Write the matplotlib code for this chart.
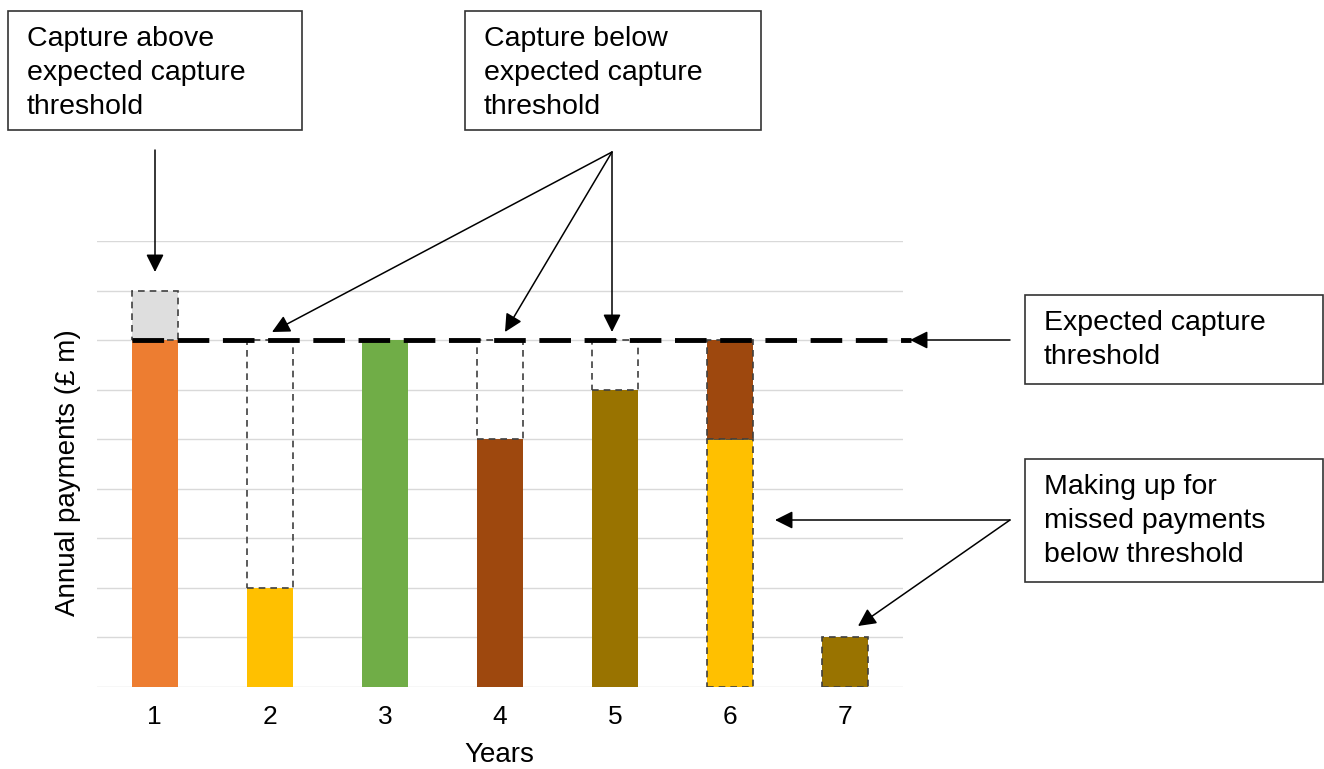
import matplotlib
matplotlib.use("Agg")
import matplotlib.pyplot as plt
from matplotlib.patches import Rectangle, FancyArrowPatch

plt.rcParams['font.family'] = ['Liberation Sans', 'DejaVu Sans']

W, H = 1324, 769

years = [1, 2, 3, 4, 5, 6, 7]
threshold = 7
paid = [7, 2, 7, 5, 6, 5, 1]
paid_colors = ['#ED7D31', '#FFC000', '#70AD47', '#9E480E', '#997300', '#FFC000', '#997300']
paid_dashed = [False, False, False, False, False, True, True]
above = [1, 0, 0, 0, 0, 0, 0]
shortfall = [0, 5, 0, 2, 1, 0, 0]
catch_up = [0, 0, 0, 0, 0, 2, 0]
catch_up_color = '#9E480E'

box_texts = [
    "Capture above\nexpected capture\nthreshold",
    "Capture below\nexpected capture\nthreshold",
    "Expected capture\nthreshold",
    "Making up for\nmissed payments\nbelow threshold",
]


def fx(x):
    return x / W


def fy(y):
    return 1 - y / H


fig = plt.figure(figsize=(W / 100, H / 100), dpi=100)
ax = fig.add_axes([fx(97), fy(687), (903 - 97) / W, (687 - 241) / H])

dash = (0, (4, 3))
edge = '#404040'
bw = 0.4

for i, yr in enumerate(years):
    if paid_dashed[i]:
        ax.bar(yr, paid[i], width=bw, color=paid_colors[i], edgecolor=edge, linestyle=dash, linewidth=1.2, zorder=3)
    else:
        ax.bar(yr, paid[i], width=bw, color=paid_colors[i], linewidth=0, zorder=3)
    if above[i] > 0:
        ax.bar(yr, above[i], bottom=threshold, width=bw, color='#DEDEDE', edgecolor=edge,
               linestyle=dash, linewidth=1.2, zorder=3)
    if shortfall[i] > 0:
        ax.bar(yr, shortfall[i], bottom=paid[i], width=bw, color='none', edgecolor=edge,
               linestyle=dash, linewidth=1.2, zorder=3)
    if catch_up[i] > 0:
        ax.bar(yr, catch_up[i], bottom=paid[i], width=bw, color=catch_up_color, edgecolor=edge,
               linestyle=dash, linewidth=1.2, zorder=3)

# expected capture threshold line
ax.plot([0.8, 7.57], [threshold, threshold], color='black', linewidth=3.5,
        linestyle=(0, (6.5, 2.8)), zorder=4, clip_on=False)

ax.set_xlim(0.5, 7.5)
ax.set_ylim(0, 9)
ax.set_yticks(range(0, 10))
ax.set_yticklabels([])
ax.set_xticks(years)
ax.set_xticklabels([str(y) for y in years])
ax.tick_params(axis='both', length=0)
ax.tick_params(axis='x', labelsize=19, pad=13)
ax.grid(axis='y', color='#D9D9D9', linewidth=1, zorder=0)
ax.set_axisbelow(True)
for s in ax.spines.values():
    s.set_visible(False)
ax.set_xlabel("Years", fontsize=20)
ax.set_ylabel("Annual payments (£ m)", fontsize=20)
ax.xaxis.set_label_coords(0.499, -0.124)
ax.yaxis.set_label_coords(-0.02, 0.48)

# text boxes
boxes = [(8, 11, 302, 130), (465, 11, 761, 130), (1025, 295, 1323, 384), (1025, 459, 1323, 582)]
for (x0, y0, x1, y1), t in zip(boxes, box_texts):
    fig.patches.append(Rectangle((fx(x0), fy(y1)), fx(x1) - fx(x0), fy(y0) - fy(y1),
                                 transform=fig.transFigure, facecolor='white',
                                 edgecolor='#333333', linewidth=1.2))
    fig.text(fx(x0 + 19), fy(y0 + 15), t, fontsize=20.5, va='top', ha='left', linespacing=1.41)

# arrows (pixel positions on the figure)
arrows = [
    ((155, 150), (155, 272)),
    ((612, 152), (272, 332)),
    ((612, 152), (505, 332)),
    ((612, 152), (612, 332)),
    ((1010, 340), (910, 340)),
    ((1010, 520), (775, 520)),
    ((1010, 520), (858, 626)),
]
for (sx, sy), (tx, ty) in arrows:
    fig.add_artist(FancyArrowPatch(
        (fx(sx), fy(sy)), (fx(tx), fy(ty)), transform=fig.transFigure,
        arrowstyle='-|>', mutation_scale=27, linewidth=1.1, color='black',
        shrinkA=0, shrinkB=0, zorder=5))

plt.savefig("out.png", dpi=100)
